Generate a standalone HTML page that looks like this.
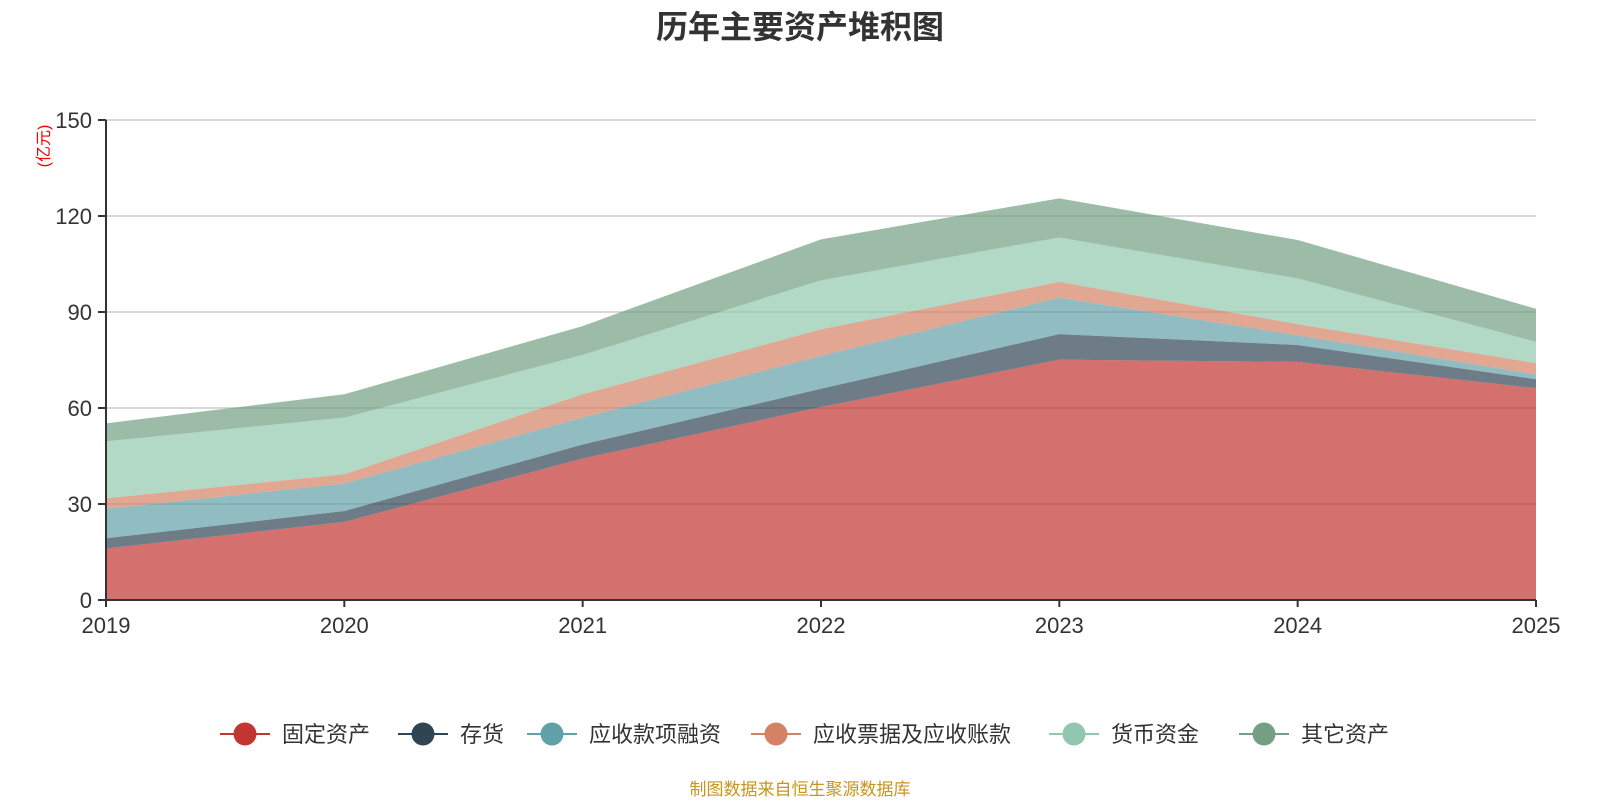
<!DOCTYPE html>
<html><head><meta charset="utf-8"><style>
body{margin:0;background:#fff;}
svg text{font-family:"Liberation Sans","Noto Sans CJK SC",sans-serif;}
</style></head><body>
<svg id="chart" width="1600" height="800" xmlns="http://www.w3.org/2000/svg">
<text x="800" y="38" text-anchor="middle" font-size="32" font-weight="bold" fill="#333">历年主要资产堆积图</text>
<text transform="translate(49,146) rotate(-90)" text-anchor="middle" font-size="16" fill="#e00">(亿元)</text>
<g id="grid"></g><g id="areas"></g><g id="axes"></g><g id="legend"></g>
<text x="800" y="795" text-anchor="middle" font-size="17" fill="#c8951e">制图数据来自恒生聚源数据库</text>
</svg>
<script>
const years=["2019","2020","2021","2022","2023","2024","2025"];
const fixedAssets=[16.1,24.4,44.2,60.3,75.1,74.4,66.2];
const inventory=[3.2,3.4,4.4,5.7,8.0,5.3,2.8];
const receivableFinancing=[9.2,8.6,8.4,10.3,11.4,3.0,1.5];
const notesReceivable=[3.3,2.9,7.3,8.3,4.9,3.5,3.5];
const cash=[17.8,17.7,12.3,15.3,13.9,14.3,6.7];
const otherAssets=[5.6,7.3,9.0,12.8,12.2,12.0,10.3];
const yTicks=[0,30,60,90,120,150];
const seriesNames=["固定资产","存货","应收款项融资","应收票据及应收账款","货币资金","其它资产"];
const seriesData=[fixedAssets,inventory,receivableFinancing,notesReceivable,cash,otherAssets];
const colors=["#c23531","#2f4554","#61a0a8","#d48265","#91c7ae","#749f83"];
const X0=106,X1=1536,Y0=600,Y1=120,YMAX=150;
const NS="http://www.w3.org/2000/svg";
const xs=i=>X0+(X1-X0)*i/(years.length-1);
const ys=v=>Y0-(Y0-Y1)*v/YMAX;
function mk(t,a,p){const e=document.createElementNS(NS,t);for(const k in a)e.setAttribute(k,a[k]);p.appendChild(e);return e;}
const grid=document.getElementById('grid'),axes=document.getElementById('axes'),areas=document.getElementById('areas'),legend=document.getElementById('legend');
yTicks.forEach(t=>{
 if(t>0){const l=mk('line',{x1:X0,x2:X1,y1:ys(t),y2:ys(t),stroke:'#ccc','stroke-width':1.5},grid);
 
 }
 const tk=mk('line',{x1:X0-8,x2:X0,y1:ys(t),y2:ys(t),stroke:'#333','stroke-width':2},axes);
 
 
 const tx=mk('text',{x:X0-14,y:ys(t)+8,'text-anchor':'end','font-size':22,fill:'#333'},axes);tx.textContent=t;
 
 
});
let cum=years.map(()=>0);
seriesData.forEach((d,s)=>{
 const lower=cum.slice();cum=cum.map((c,i)=>c+d[i]);
 let p=years.map((_,i)=>xs(i)+','+ys(cum[i])).join(' ');
 p+=' '+years.map((_,i)=>xs(i)+','+ys(lower[i])).reverse().join(' ');
 const a=mk('polygon',{points:p,fill:colors[s],'fill-opacity':0.7},areas);
 
 
});
const ax=mk('line',{x1:X0,x2:X0,y1:Y1,y2:Y0,stroke:'#333','stroke-width':2},axes);


const bx=mk('line',{x1:X0,x2:X1,y1:Y0,y2:Y0,stroke:'#333','stroke-width':2},axes);


years.forEach((y,i)=>{
 const tk=mk('line',{x1:xs(i),x2:xs(i),y1:Y0,y2:Y0+7,stroke:'#333','stroke-width':2},axes);
 
 
 const t=mk('text',{x:xs(i),y:633,'text-anchor':'middle','font-size':22,fill:'#333'},axes);t.textContent=y;
 
 
});
const lx=[220,398,527,751,1049,1239];
seriesNames.forEach((n,s)=>{
 const g=mk('g',{},legend);
 
 
 mk('line',{x1:lx[s],x2:lx[s]+50,y1:734,y2:734,stroke:colors[s],'stroke-width':2},g);
 mk('circle',{cx:lx[s]+25,cy:734,r:11.5,fill:colors[s]},g);
 const t=mk('text',{x:lx[s]+62,y:742,'font-size':22,fill:'#333'},g);t.textContent=n;
});
</script>
</body></html>
